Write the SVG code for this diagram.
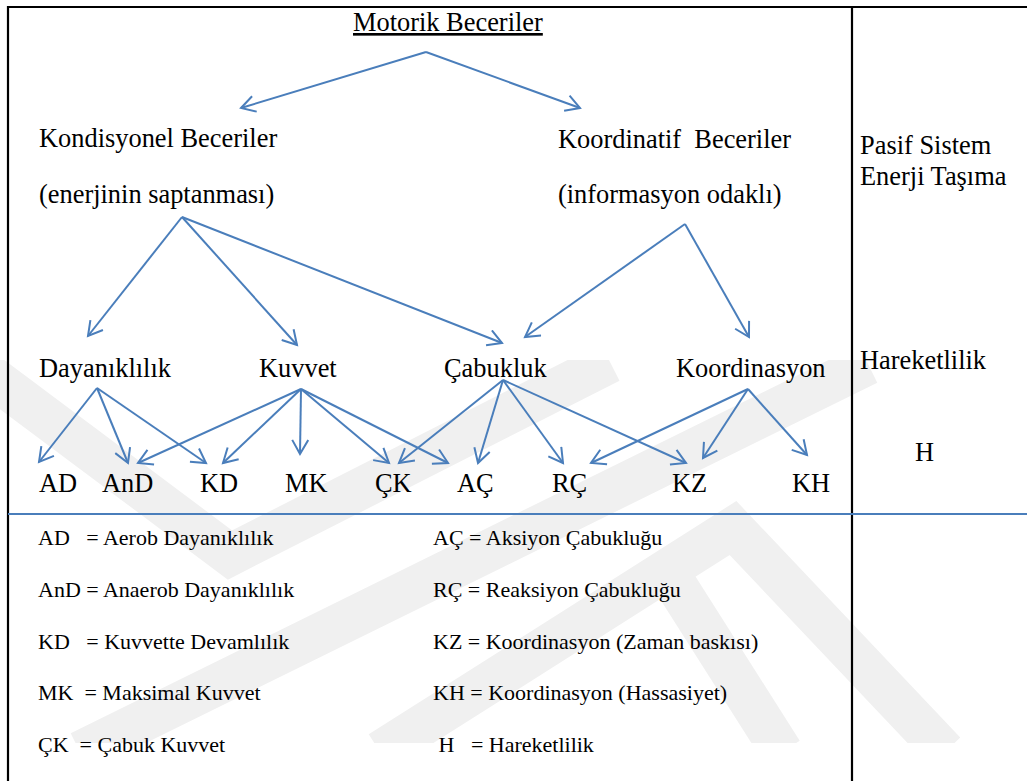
<svg xmlns="http://www.w3.org/2000/svg" width="1027" height="781" viewBox="0 0 1027 781" xml:space="preserve">
<style>
.t{font-size:26.4px;fill:#000;white-space:pre}
.l{font-size:22px;fill:#000;white-space:pre}
.c line{stroke:#4a7ebb;stroke-width:2;fill:none;marker-end:url(#ah)}
.wm{fill:none;stroke:#f0f0f0;stroke-width:42;stroke-linejoin:miter}
.b{stroke:#000;stroke-width:2.2;fill:none}
</style>
<defs>
<marker id="ah" markerUnits="userSpaceOnUse" markerWidth="18" markerHeight="18" viewBox="-1 -1 18 18" refX="14" refY="8" orient="auto">
<path d="M0,0 L14,8 L0,16" fill="none" stroke="#4a7ebb" stroke-width="2"/>
</marker>
<clipPath id="wmclip"><rect x="0" y="360" width="1027" height="383"/></clipPath>
</defs>
<rect x="0" y="0" width="1027" height="781" fill="#fff"/>
<g id="watermark" clip-path="url(#wmclip)">
<polyline class="wm" points="-20,368 230,555 610,362"/>
<line class="wm" x1="80" y1="752" x2="868" y2="364"/>
<polyline class="wm" points="380,752 733,528 945,752"/>
<line class="wm" x1="676" y1="585" x2="782" y2="752"/>
</g>
<g id="frame">
<line class="b" x1="8" y1="7" x2="1027" y2="7"/>
<line class="b" x1="8" y1="6" x2="8" y2="781"/>
<line class="b" x1="852" y1="7" x2="852" y2="781"/>
<line x1="8" y1="514" x2="1027" y2="514" stroke="#4a7ebb" stroke-width="2"/>
</g>
<g id="connectors" class="c">
<line x1="426" y1="52" x2="241" y2="108"/>
<line x1="426" y1="52" x2="580" y2="108"/>
<line x1="182" y1="217" x2="88" y2="336"/>
<line x1="182" y1="217" x2="297" y2="345"/>
<line x1="182" y1="217" x2="502" y2="343"/>
<line x1="685" y1="224" x2="525" y2="337"/>
<line x1="685" y1="224" x2="749" y2="337"/>
<line x1="97" y1="388" x2="39" y2="462"/>
<line x1="97" y1="388" x2="128" y2="463"/>
<line x1="97" y1="388" x2="206" y2="463"/>
<line x1="301" y1="389" x2="138" y2="463"/>
<line x1="301" y1="389" x2="223" y2="463"/>
<line x1="301" y1="389" x2="300" y2="454"/>
<line x1="301" y1="389" x2="389" y2="463"/>
<line x1="301" y1="389" x2="448" y2="463"/>
<line x1="503" y1="380" x2="399" y2="463"/>
<line x1="503" y1="380" x2="478" y2="463"/>
<line x1="503" y1="380" x2="563" y2="463"/>
<line x1="503" y1="380" x2="686" y2="463"/>
<line x1="748" y1="389" x2="591" y2="463"/>
<line x1="748" y1="389" x2="703" y2="458"/>
<line x1="748" y1="389" x2="807" y2="455"/>
</g>
<g font-family="Liberation Serif, Times New Roman, serif">
<g id="n-motorik"><text class="t" x="353" y="31" text-decoration="underline">Motorik Beceriler</text></g>
<g id="n-kondisyonel"><text class="t" x="39" y="147">Kondisyonel Beceriler</text><text class="t" x="39" y="203">(enerjinin saptanması)</text></g>
<g id="n-koordinatif"><text class="t" x="558" y="148">Koordinatif  Beceriler</text><text class="t" x="558" y="203">(informasyon odaklı)</text></g>
<g id="n-pasif"><text class="t" x="860" y="154">Pasif Sistem</text><text class="t" x="860" y="185">Enerji Taşıma</text></g>
<g id="n-dayaniklilik"><text class="t" x="39" y="377">Dayanıklılık</text></g>
<g id="n-kuvvet"><text class="t" x="259" y="377">Kuvvet</text></g>
<g id="n-cabukluk"><text class="t" x="444" y="377">Çabukluk</text></g>
<g id="n-koordinasyon"><text class="t" x="676" y="377">Koordinasyon</text></g>
<g id="n-hareketlilik"><text class="t" x="860" y="369">Hareketlilik</text></g>
<g id="n-H"><text class="t" x="915" y="461">H</text></g>
<g id="n-AD"><text class="t" x="39" y="492">AD</text></g>
<g id="n-AnD"><text class="t" x="102" y="492">AnD</text></g>
<g id="n-KD"><text class="t" x="200" y="492">KD</text></g>
<g id="n-MK"><text class="t" x="285" y="492">MK</text></g>
<g id="n-CK"><text class="t" x="375" y="492">ÇK</text></g>
<g id="n-AC"><text class="t" x="457" y="492">AÇ</text></g>
<g id="n-RC"><text class="t" x="552" y="492">RÇ</text></g>
<g id="n-KZ"><text class="t" x="672" y="492">KZ</text></g>
<g id="n-KH"><text class="t" x="792" y="492">KH</text></g>
<g id="legend">
<text class="l" x="38" y="545">AD   = Aerob Dayanıklılık</text>
<text class="l" x="38" y="597">AnD = Anaerob Dayanıklılık</text>
<text class="l" x="38" y="649">KD   = Kuvvette Devamlılık</text>
<text class="l" x="38" y="700">MK  = Maksimal Kuvvet</text>
<text class="l" x="38" y="752">ÇK  = Çabuk Kuvvet</text>
<text class="l" x="433" y="545">AÇ = Aksiyon Çabukluğu</text>
<text class="l" x="433" y="597">RÇ = Reaksiyon Çabukluğu</text>
<text class="l" x="433" y="649">KZ = Koordinasyon (Zaman baskısı)</text>
<text class="l" x="433" y="700">KH = Koordinasyon (Hassasiyet)</text>
<text class="l" x="433" y="752"> H   = Hareketlilik</text>
</g>
</g>
</svg>
